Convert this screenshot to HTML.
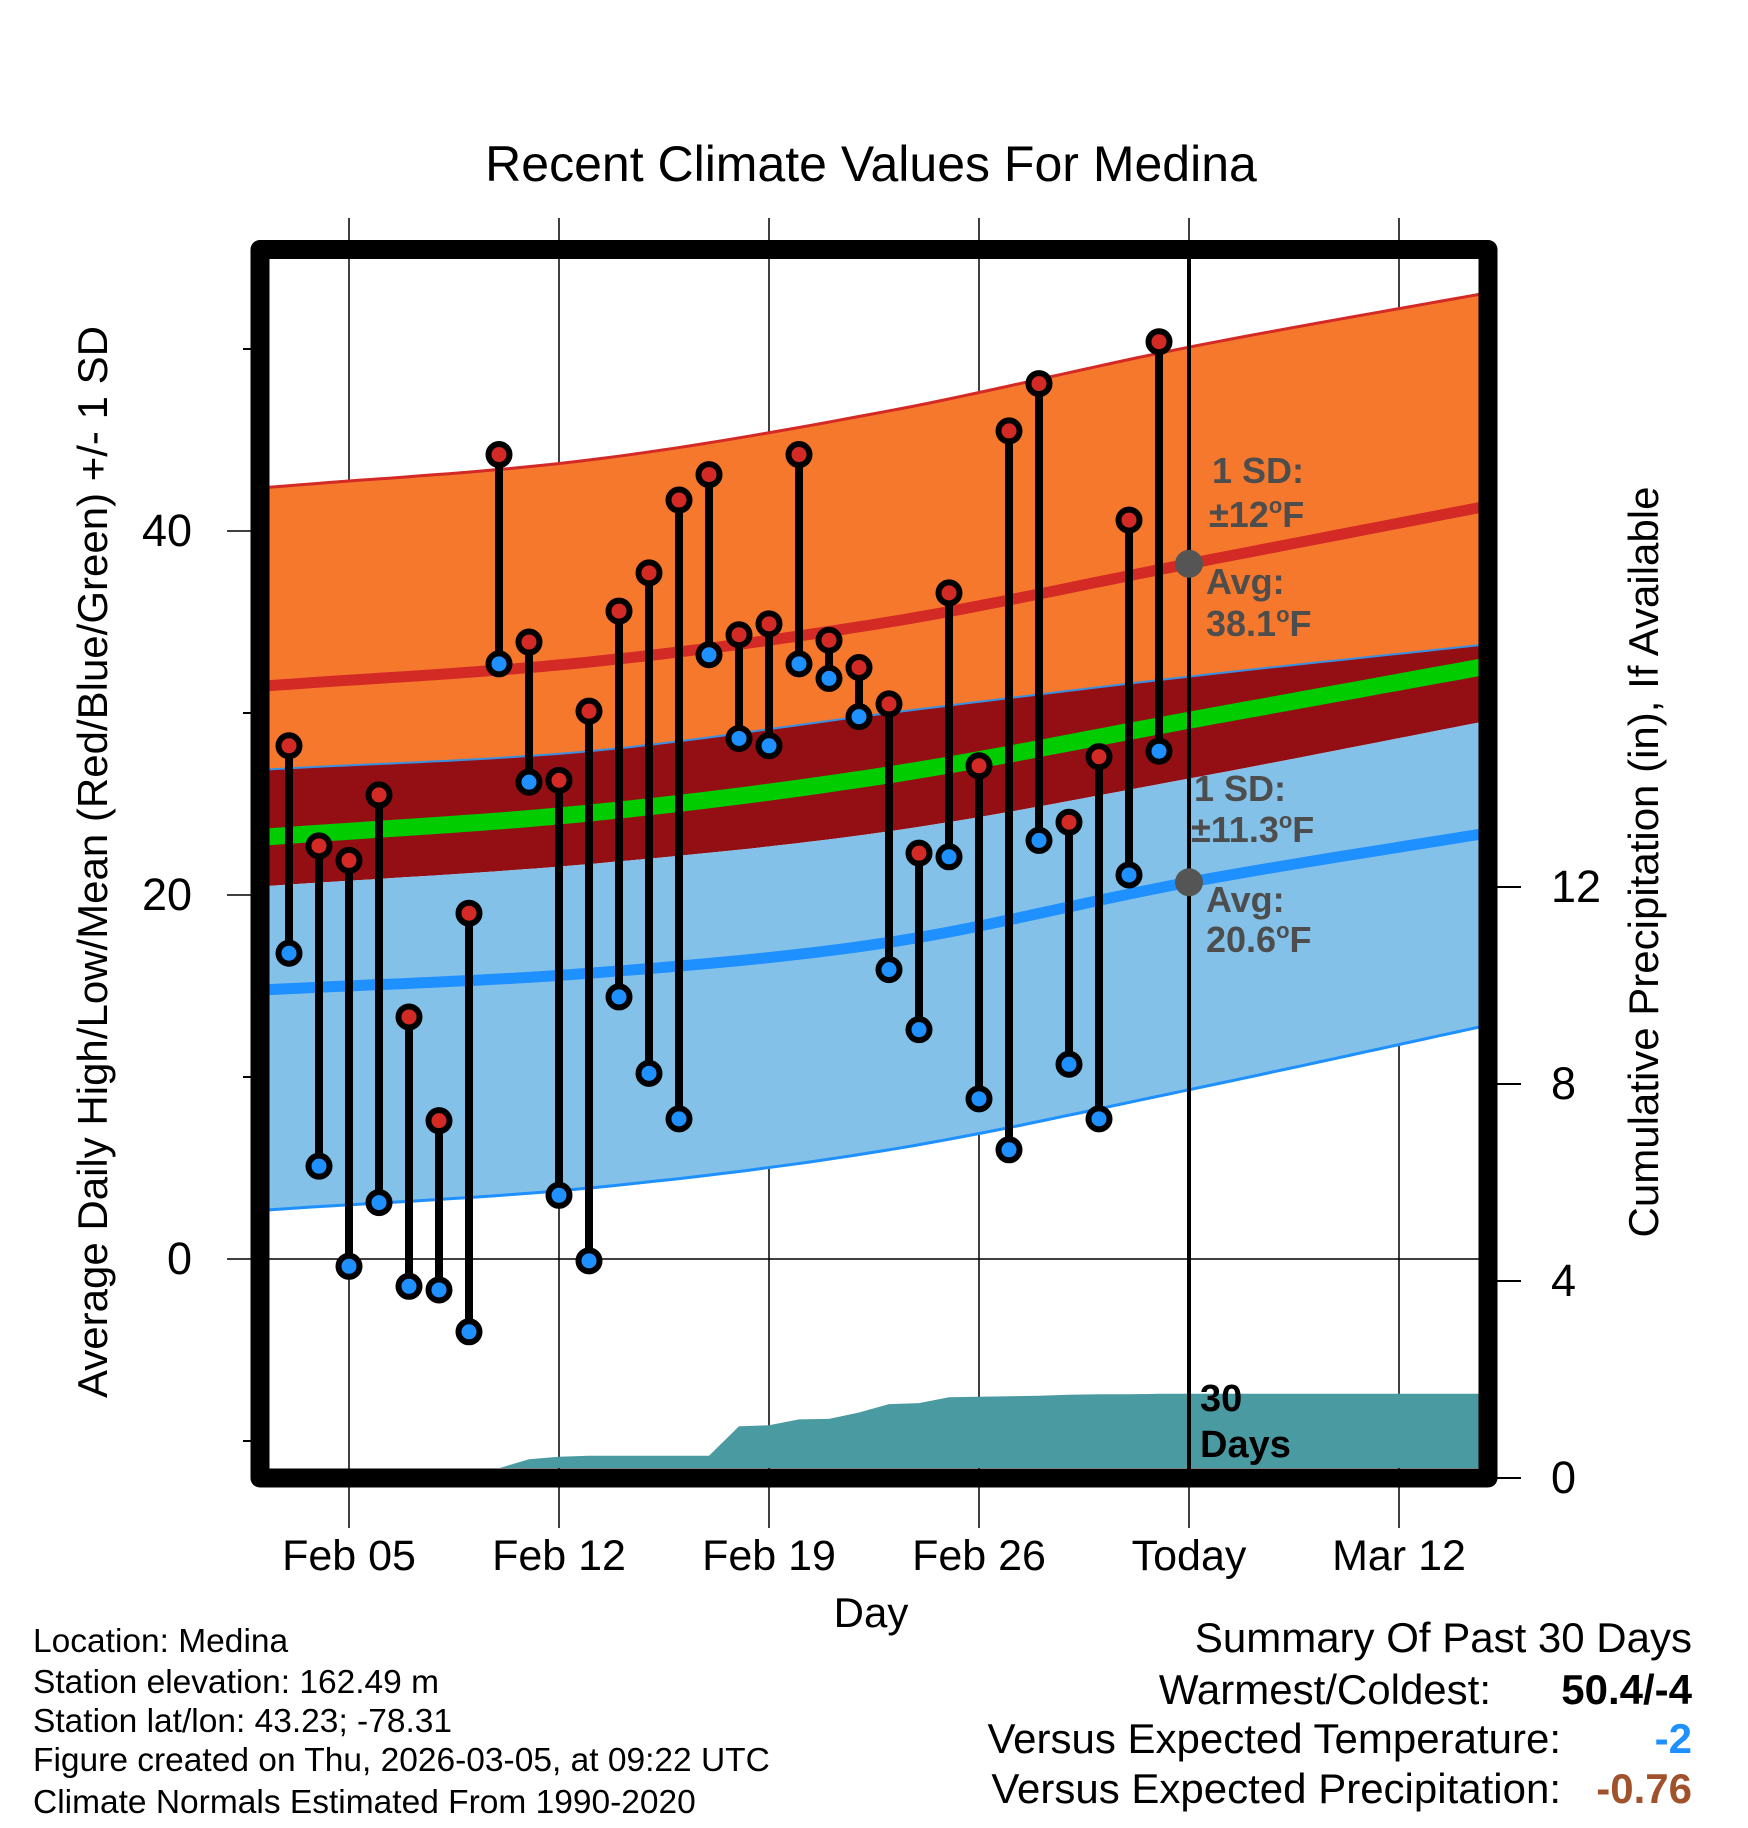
<!DOCTYPE html>
<html><head><meta charset="utf-8"><style>
html,body{margin:0;padding:0;background:#fff}
svg{display:block;font-family:"Liberation Sans",Arial,sans-serif}
</style></head><body>
<svg id="chart" width="1748" height="1828" viewBox="0 0 1748 1828" xmlns="http://www.w3.org/2000/svg">
<defs><clipPath id="plotclip"><rect x="269" y="260" width="1210" height="1208"/></clipPath></defs>
<text x="871" y="181" font-size="50" text-anchor="middle">Recent Climate Values For Medina</text>
<g id="grid"></g>
<g id="plot" clip-path="url(#plotclip)"></g>
<g id="marks"></g>
<rect x="260" y="249.5" width="1228" height="1228.5" fill="none" stroke="#000" stroke-width="19" stroke-linejoin="round"/>
<g id="axes"></g>
<g font-weight="bold" font-size="36" fill="#4d4d4d">
<text x="1212" y="483">1 SD:</text>
<text x="1209" y="527">±12<tspan font-size="22" dy="-14">o</tspan><tspan dy="14">F</tspan></text>
<text x="1206" y="594">Avg:</text>
<text x="1206" y="636">38.1<tspan font-size="22" dy="-14">o</tspan><tspan dy="14">F</tspan></text>
<text x="1194" y="801">1 SD:</text>
<text x="1191" y="842">±11.3<tspan font-size="22" dy="-14">o</tspan><tspan dy="14">F</tspan></text>
<text x="1206" y="912">Avg:</text>
<text x="1206" y="952">20.6<tspan font-size="22" dy="-14">o</tspan><tspan dy="14">F</tspan></text>
</g>
<text x="1200" y="1411" font-size="38" font-weight="bold">30</text>
<text x="1200" y="1457" font-size="38" font-weight="bold">Days</text>
<text transform="translate(107,862) rotate(-90)" font-size="42" text-anchor="middle">Average Daily High/Low/Mean (Red/Blue/Green) +/- 1 SD</text>
<text transform="translate(1658,862) rotate(-90)" font-size="42" text-anchor="middle">Cumulative Precipitation (in), If Available</text>
<text x="871" y="1627" font-size="42" text-anchor="middle">Day</text>
<g font-size="33.5">
<text x="33" y="1652">Location: Medina</text>
<text x="33" y="1693">Station elevation: 162.49 m</text>
<text x="33" y="1732">Station lat/lon: 43.23; -78.31</text>
<text x="33" y="1771">Figure created on Thu, 2026-03-05, at 09:22 UTC</text>
<text x="33" y="1813">Climate Normals Estimated From 1990-2020</text>
</g>
<g font-size="42">
<text x="1692" y="1652" text-anchor="end">Summary Of Past 30 Days</text>
<text x="1491" y="1704" text-anchor="end">Warmest/Coldest:</text>
<text x="1692" y="1704" text-anchor="end" font-weight="bold">50.4/-4</text>
<text x="1561" y="1753" text-anchor="end">Versus Expected Temperature:</text>
<text x="1692" y="1753" text-anchor="end" font-weight="bold" fill="#1e90ff">-2</text>
<text x="1561" y="1803" text-anchor="end">Versus Expected Precipitation:</text>
<text x="1692" y="1803" text-anchor="end" font-weight="bold" fill="#a0522d">-0.76</text>
</g>
</svg>
<script>
// Day index 0 = Feb 03; today (Mar 05) = 30
const highs = [28.2,22.7,21.9,25.5,13.3,7.6,19.0,44.2,33.9,26.3,30.1,35.6,37.7,41.7,43.1,34.3,34.9,44.2,34.0,32.5,30.5,22.3,36.6,27.1,45.5,48.1,24.0,27.6,40.6,50.4];
const lows = [16.8,5.1,-0.4,3.1,-1.5,-1.7,-4.0,32.7,26.2,3.5,-0.1,14.4,10.2,7.7,33.2,28.6,28.2,32.7,31.9,29.8,15.9,12.6,22.1,8.8,6.0,23.0,10.7,7.7,21.1,27.9];
const precip = [0,0,0,0,0,0,0,0.2,0.38,0.43,0.45,0.45,0.45,0.45,0.45,1.05,1.07,1.19,1.2,1.33,1.5,1.52,1.64,1.65,1.66,1.67,1.69,1.70,1.70,1.71,1.71];
const normalDays = [-0.67,10,20,30,40.67];
const highMean = [31.5,32.8,35.0,38.2,41.6];
const highPlus = [42.4,43.9,46.6,50.1,53.3];
const highMinus = [26.9,27.9,30.0,32.0,33.9];
const meanNormal = [23.2,24.5,26.6,29.6,32.8];
const lowPlus = [20.5,21.7,23.5,26.4,29.8];
const lowMean = [14.8,15.7,17.4,20.7,23.6];
const lowMinus = [2.7,3.9,6.0,9.3,13.1];
const xTickDays = [2,9,16,23,30,37];
const xTickLabels = ["Feb 05","Feb 12","Feb 19","Feb 26","Today","Mar 12"];
const yTicks = [0,20,40];
const yMinor = [-10,10,30,50];
const y2Ticks = [0,4,8,12];

const NS="http://www.w3.org/2000/svg";
const X = d => 289 + 30*d;
const Y = v => 1259 - 18.2*v;
const YP = p => 1478 - 49.25*p;
function mk(tag, attrs, parent){const e=document.createElementNS(NS,tag);for(const k in attrs)e.setAttribute(k,attrs[k]);parent.appendChild(e);return e;}
function interp(vals, d){
  let i=0; while(i<normalDays.length-2 && d>normalDays[i+1]) i++;
  const p=k=>vals[Math.max(0,Math.min(vals.length-1,k))], dd=k=>normalDays[Math.max(0,Math.min(normalDays.length-1,k))];
  const t=(d-dd(i))/(dd(i+1)-dd(i));
  const m0=(p(i+1)-p(i-1))/((dd(i+1)-dd(i-1))||1)*(dd(i+1)-dd(i));
  const m1=(p(i+2)-p(i))/((dd(i+2)-dd(i))||1)*(dd(i+1)-dd(i));
  const t2=t*t,t3=t2*t;
  return (2*t3-3*t2+1)*p(i)+(t3-2*t2+t)*m0+(-2*t3+3*t2)*p(i+1)+(t3-t2)*m1;
}
const samples=[];for(let d=-0.67; d<=40.7; d+=0.5) samples.push(Math.min(d,40.67));
function linePts(vals){return samples.map(d=>X(d).toFixed(1)+","+Y(interp(vals,d)).toFixed(1));}
function band(top,bot){return "M"+linePts(top).join(" L")+" L"+linePts(bot).reverse().join(" L")+"Z";}

const plot=document.getElementById('plot');
let e;
e=mk('path',{d:band(highPlus,highMinus),fill:'#f5782c'},plot);


e=mk('path',{d:band(highMinus,lowPlus),fill:'#930f14'},plot);


e=mk('path',{d:band(lowPlus,lowMinus),fill:'#83c1e8'},plot);


e=mk('polyline',{points:linePts(highPlus).join(" "),fill:'none',stroke:'#d42a25','stroke-width':3},plot);


e=mk('polyline',{points:linePts(highMinus).join(" "),fill:'none',stroke:'#3a8fe0','stroke-width':2},plot);


e=mk('polyline',{points:linePts(lowMinus).join(" "),fill:'none',stroke:'#1e90ff','stroke-width':3},plot);


e=mk('polyline',{points:linePts(meanNormal).join(" "),fill:'none',stroke:'#00cc00','stroke-width':17},plot);


e=mk('polyline',{points:linePts(highMean).join(" "),fill:'none',stroke:'#d42a25','stroke-width':11},plot);


e=mk('polyline',{points:linePts(lowMean).join(" "),fill:'none',stroke:'#1e90ff','stroke-width':11},plot);


let pd="M"+X(0)+","+YP(0);
precip.forEach((p,i)=>{pd+=" L"+X(i)+","+YP(p).toFixed(1);});
pd+=" L1480,"+YP(precip[precip.length-1]).toFixed(1)+" L1480,"+YP(0)+"Z";
e=mk('path',{d:pd,fill:'#4a9aa2'},plot);



const grid=document.getElementById('grid');
xTickDays.forEach((d,i)=>{
  const l=mk('line',{x1:X(d),x2:X(d),y1:218,y2:1528,stroke:'#000','stroke-width':1.5},grid);
  
  
});
yTicks.forEach(v=>{
  const l=mk('line',{x1:227,x2:1479,y1:Y(v),y2:Y(v),stroke:'#000','stroke-width':1.5},grid);
  
  
});
const marks=document.getElementById('marks');
const tl=mk('line',{x1:X(30),x2:X(30),y1:258,y2:1470,stroke:'#000','stroke-width':4},marks);


highs.forEach((h,i)=>{
  const s=mk('line',{x1:X(i),x2:X(i),y1:Y(h),y2:Y(lows[i]),stroke:'#000','stroke-width':8},marks);
  
  
});
highs.forEach((h,i)=>{
  const c=mk('circle',{cx:X(i),cy:Y(h),r:10.5,fill:'#d42a25',stroke:'#000','stroke-width':6},marks);
  
  
  const c2=mk('circle',{cx:X(i),cy:Y(lows[i]),r:10.5,fill:'#1e90ff',stroke:'#000','stroke-width':6},marks);
  
  
});
const ah=mk('circle',{cx:X(30),cy:Y(interp(highMean,30)),r:14,fill:'#555'},marks);


const al=mk('circle',{cx:X(30),cy:Y(interp(lowMean,30)),r:14,fill:'#555'},marks);



const axes=document.getElementById('axes');
xTickDays.forEach((d,i)=>{
  const t=mk('text',{x:X(d),y:1570,'font-size':43,'text-anchor':'middle'},axes);
  t.textContent=xTickLabels[i];
  
  
});
yTicks.forEach(v=>{
  const t=mk('text',{x:192,y:Y(v)+15,'font-size':45,'text-anchor':'end'},axes);
  t.textContent=v;
  
  
});
yMinor.forEach(v=>{
  const l=mk('line',{x1:243,x2:252,y1:Y(v),y2:Y(v),stroke:'#000','stroke-width':2},axes);
  
  
});
y2Ticks.forEach(p=>{
  const l=mk('line',{x1:1497,x2:1521,y1:YP(p),y2:YP(p),stroke:'#000','stroke-width':2},axes);
  
  
  const t=mk('text',{x:1551,y:YP(p)+15,'font-size':45},axes);
  t.textContent=p;
  
  
});
</script>
</body></html>
